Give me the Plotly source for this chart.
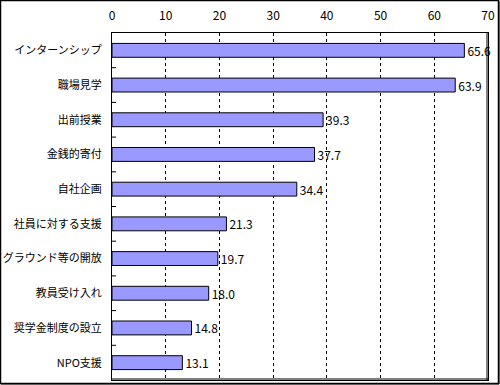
import plotly.graph_objects as go

categories = ["インターンシップ", "職場見学", "出前授業", "金銭的寄付", "自社企画",
              "社員に対する支援", "グラウンド等の開放", "教員受け入れ", "奨学金制度の設立", "NPO支援"]
values = [65.6, 63.9, 39.3, 37.7, 34.4, 21.3, 19.7, 18.0, 14.8, 13.1]
x_ticks = [0, 10, 20, 30, 40, 50, 60, 70]

FONT = "Noto Sans CJK JP, sans-serif"

fig = go.Figure(go.Bar(
    x=values, y=categories, orientation="h",
    marker=dict(color="#9999FF", line=dict(color="black", width=1)),
    width=0.4,
    text=values, texttemplate="%{x:.1f}", textposition="outside",
    textfont=dict(family=FONT, size=12, color="black"),
    constraintext="none",
    cliponaxis=False,
))

L, R, T, B = 112, 12, 33, 5
W, H = 500, 385
pw, ph = W - L - R, H - T - B

def px_x(p):
    return (p - L) / pw

def px_y(p):
    return (H - B - p) / ph

fig.update_layout(
    width=W, height=H,
    margin=dict(l=L, r=R, t=T, b=B, autoexpand=False),
    paper_bgcolor="white", plot_bgcolor="white",
    showlegend=False,
    font=dict(family=FONT, size=12, color="black"),
    bargap=0.6,
    xaxis=dict(
        side="top", range=[0, 70], tickvals=x_ticks, ticktext=[str(v) for v in x_ticks],
        showgrid=True, gridcolor="black", gridwidth=1, griddash="3px,3px",
        showline=True, linecolor="black", linewidth=1, mirror=True,
        ticks="", ticklabelstandoff=7, zeroline=False, automargin=False,
        tickfont=dict(family=FONT, size=12),
    ),
    yaxis=dict(
        autorange="reversed", showline=True, linecolor="black", linewidth=1, mirror=True,
        ticks="", ticklabelstandoff=7, showgrid=False, automargin=False,
        tickfont=dict(family=FONT, size=11),
    ),
    shapes=[
        # thicker right/bottom edges of plot frame
        dict(type="line", xref="paper", yref="paper", x0=px_x(487), x1=px_x(487),
             y0=px_y(380), y1=px_y(33), line=dict(color="black", width=1)),
        dict(type="line", xref="paper", yref="paper", x0=px_x(112), x1=px_x(488),
             y0=px_y(379), y1=px_y(379), line=dict(color="black", width=1)),
        # outer border
        dict(type="rect", xref="paper", yref="paper", x0=px_x(0.5), x1=px_x(498.5),
             y0=px_y(383.5), y1=px_y(0.5), line=dict(color="black", width=1.5)),
        dict(type="line", xref="paper", yref="paper", x0=px_x(499), x1=px_x(499),
             y0=px_y(384), y1=px_y(1), line=dict(color="black", width=1)),
        dict(type="line", xref="paper", yref="paper", x0=px_x(1), x1=px_x(499),
             y0=px_y(384), y1=px_y(384), line=dict(color="black", width=1)),
    ],
)

# small inward ticks on category boundaries
for i in range(1, len(categories)):
    yb = T + ph * i / len(categories)
    fig.add_shape(type="line", xref="paper", yref="paper",
                  x0=px_x(112), x1=px_x(116), y0=px_y(yb), y1=px_y(yb),
                  line=dict(color="black", width=1))

fig.write_html("out.html", config={"displayModeBar": False},
               post_script="document.body.style.margin='0';document.body.style.overflow='hidden';")
